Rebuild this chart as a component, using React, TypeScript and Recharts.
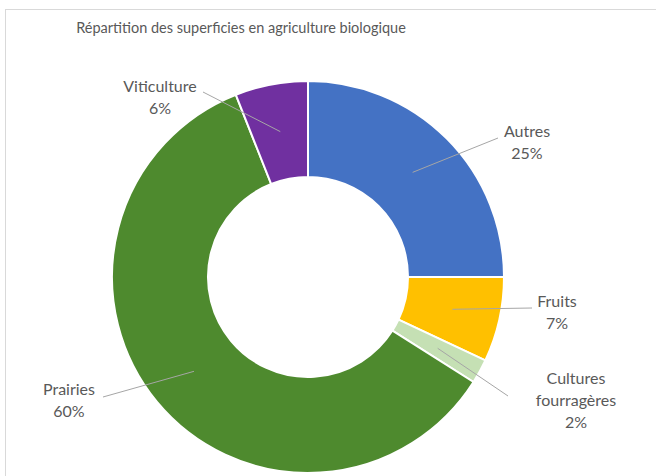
import { PieChart, Pie, Cell } from 'recharts';

const categories = ['Autres', 'Fruits', 'Cultures fourragères', 'Prairies', 'Viticulture'];
const shares = [25, 7, 2, 60, 6];
const colors = ['#4472C4', '#FFC000', '#C5E0B4', '#4E8A2E', '#7030A0'];

// where Excel put each label block (offset from the pie centre) and where its leader line stops
const LABEL_LAYOUT: Record<string, { tx: number; ty: number; lx: number; ly: number }> = {
  'Autres': { tx: 219, ty: -136, lx: 190, ly: -139 },
  'Fruits': { tx: 249, ty: 34, lx: 224, ly: 31 },
  'Cultures fourragères': { tx: 268, ty: 122, lx: 200, ly: 119 },
  'Prairies': { tx: -239, ty: 122, lx: -205, ly: 120 },
  'Viticulture': { tx: -148, ty: -181, lx: -105, ly: -185 },
};

const data = categories.map((name, i) => ({ name, value: shares[i] }));

const RAD = Math.PI / 180;
const FONT = 'Lato, "Open Sans", sans-serif';

function renderLabel(props: any) {
  const { cx, cy, midAngle, innerRadius, outerRadius, name, value } = props;
  const layout = LABEL_LAYOUT[name];
  if (!layout) return null;
  const r = (innerRadius + outerRadius) / 2;
  const sx = cx + r * Math.cos(-midAngle * RAD);
  const sy = cy + r * Math.sin(-midAngle * RAD);
  const lines = name === 'Cultures fourragères' ? ['Cultures', 'fourragères', `${value}%`] : [name, `${value}%`];
  const lh = 22;
  const top = cy + layout.ty - ((lines.length - 1) * lh) / 2;
  return (
    <g>
      <line x1={sx} y1={sy} x2={cx + layout.lx} y2={cy + layout.ly} stroke="#a6a6a6" strokeWidth={1} />
      {lines.map((t, i) => (
        <text
          key={i}
          x={cx + layout.tx}
          y={top + i * lh}
          textAnchor="middle"
          dominantBaseline="central"
          fill="#595959"
          fontSize={16}
          fontFamily={FONT}
        >
          {t}
        </text>
      ))}
    </g>
  );
}

export default function App() {
  return (
    <div style={{ position: 'absolute', left: 0, top: 0, width: 656, height: 476, background: '#fff', overflow: 'hidden' }}>
      <div
        style={{
          position: 'absolute',
          left: 5,
          top: 9,
          width: 680,
          height: 500,
          border: '1px solid #d9d9d9',
        }}
      />
      <div
        style={{
          position: 'absolute',
          left: 0,
          top: 19,
          width: 482,
          textAlign: 'center',
          fontFamily: FONT,
          fontSize: 14.5,
          color: '#595959',
        }}
      >
        Répartition des superficies en agriculture biologique
      </div>
      <div style={{ position: 'absolute', left: 0, top: 0 }}>
        <PieChart width={656} height={476} margin={{ top: 0, right: 0, bottom: 0, left: 0 }}>
          <Pie
            data={data}
            dataKey="value"
            nameKey="name"
            cx={308}
            cy={277}
            innerRadius={100}
            outerRadius={196}
            startAngle={90}
            endAngle={-270}
            stroke="#ffffff"
            strokeWidth={2}
            label={renderLabel}
            labelLine={false}
            isAnimationActive={false}
          >
            {data.map((entry, i) => (
              <Cell key={entry.name} fill={colors[i]} />
            ))}
          </Pie>
        </PieChart>
      </div>
    </div>
  );
}
